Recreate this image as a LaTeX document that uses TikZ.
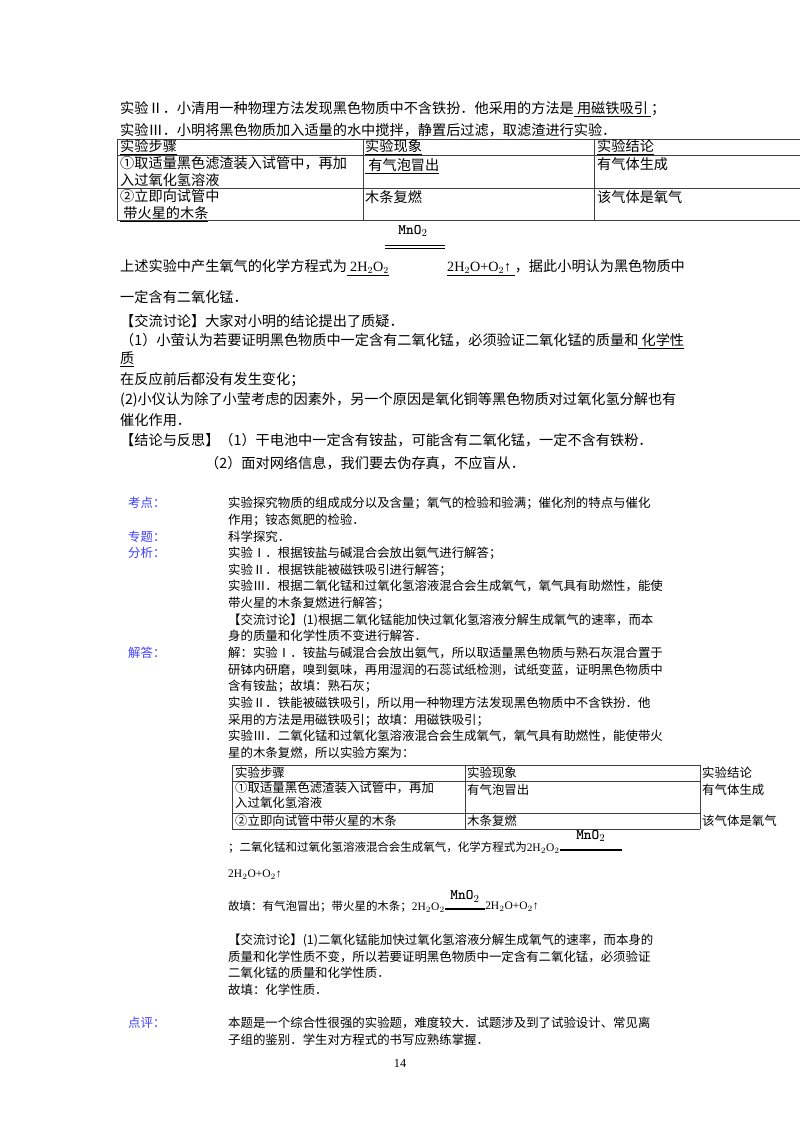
\documentclass[tikz,border=0pt]{standalone}
\usepackage{fontspec}
\setmainfont{Liberation Serif}
\newfontfamily\cjk{Noto Sans CJK SC}
\begin{document}
\begin{tikzpicture}[x=0.03cm,y=-0.03cm,
  t/.style={anchor=west,inner sep=0,font=\cjk\fontsize{10.6}{13}\selectfont},
  tt/.style={t,font=\cjk\fontsize{12.1}{15}\selectfont},
  ts/.style={t,font=\cjk\fontsize{9.8}{12}\selectfont},
  lab/.style={t,text=blue!75!white},
  grid/.style={line width=0.5pt,draw=black!75},
  mn/.style={inner sep=0,font=\ttfamily\bfseries\fontsize{12.5}{14}\selectfont}]
\useasboundingbox[fill=white](0,0) rectangle (800,1132);
\node[tt] (a1) at (120,109) {实验Ⅱ．小清用一种物理方法发现黑色物质中不含铁扮．他采用的方法是\underline{\ 用磁铁吸引\ }；};
\node[tt] (a2) at (120,130) {实验Ⅲ．小明将黑色物质加入适量的水中搅拌，静置后过滤，取滤渣进行实验．};
% table 1
\draw[grid] (117,139) -- (800,139) (117,155) -- (800,155) (117,188) -- (800,188) (117,220) -- (800,220);
\draw[grid] (117,139) -- (117,220) (363,139) -- (363,220) (594,139) -- (594,220);
\node[tt] (h1) at (120,147) {\underline{实验步骤}};
\node[tt] (h2) at (365,147) {\underline{实验现象}};
\node[tt] (h3) at (597,147) {\underline{实验结论}};
\node[tt,align=left,anchor=north west] (r1) at (120,156) {①取适量黑色滤渣装入试管中，再加\\入过氧化氢溶液};
\node[tt] (r12) at (365,166) {\underline{\ 有气泡冒出}};
\node[tt] (r13) at (597,164) {有气体生成};
\node[tt,align=left,anchor=north west] (r2) at (120,189) {②立即向试管中\\\underline{\ 带火星的木条}};
\node[tt] (r22) at (365,197) {木条复燃};
\node[tt] (r23) at (597,197) {该气体是氧气};
\node[mn] (m1) at (413,231) {MnO$_2$};
\draw (385,245) -- (445,245) (385,248.5) -- (445,248.5);
\node[tt] (a3) at (120,268) {上述实验中产生氧气的化学方程式为\underline{\ \rmfamily 2H$_2$O$_2$}};
\node[tt] (a3b) at (447,268) {\underline{\rmfamily 2H$_2$O+O$_2$↑\ }，据此小明认为黑色物质中};
\node[tt] (a4) at (120,297) {一定含有二氧化锰．};
\node[tt] (a5) at (120,321) {【交流讨论】大家对小明的结论提出了质疑．};
\node[tt] (a6) at (120,341) {（1）小萤认为若要证明黑色物质中一定含有二氧化锰，必须验证二氧化锰的质量和\underline{\ 化学性}};
\node[tt] (a7) at (120,359) {\underline{质}};
\node[tt] (a8) at (120,380) {在反应前后都没有发生变化；};
\node[tt] (a9) at (120,400) {(2)小仪认为除了小莹考虑的因素外，另一个原因是氧化铜等黑色物质对过氧化氢分解也有};
\node[tt] (a10) at (120,420) {催化作用．};
\node[tt] (a11) at (120,440) {【结论与反思】（1）干电池中一定含有铵盐，可能含有二氧化锰，一定不含有铁粉．};
\node[tt] (a12) at (205,463) {（2）面对网络信息，我们要去伪存真，不应盲从．};
% analysis
\node[lab] (k1) at (128,503) {考点：};
\node[lab] (k2) at (128,537) {专题：};
\node[lab] (k3) at (128,553) {分析：};
\node[lab] (k4) at (128,653) {解答：};
\node[lab] (k5) at (128,1023) {点评：};
\foreach \y/\s in {503/实验探究物质的组成成分以及含量；氧气的检验和验满；催化剂的特点与催化,
 520/作用；铵态氮肥的检验．, 537/科学探究．, 553/实验Ⅰ．根据铵盐与碱混合会放出氨气进行解答；,
 570/实验Ⅱ．根据铁能被磁铁吸引进行解答；, 586/实验Ⅲ．根据二氧化锰和过氧化氢溶液混合会生成氧气，氧气具有助燃性，能使,
 603/带火星的木条复燃进行解答；, 620/【交流讨论】(1)根据二氧化锰能加快过氧化氢溶液分解生成氧气的速率，而本,
 636/身的质量和化学性质不变进行解答．, 653/解：实验Ⅰ．铵盐与碱混合会放出氨气，所以取适量黑色物质与熟石灰混合置于,
 670/研钵内研磨，嗅到氨味，再用湿润的石蕊试纸检测，试纸变蓝，证明黑色物质中, 686/含有铵盐；故填：熟石灰；,
 703/实验Ⅱ．铁能被磁铁吸引，所以用一种物理方法发现黑色物质中不含铁扮．他, 720/采用的方法是用磁铁吸引；故填：用磁铁吸引；,
 736/实验Ⅲ．二氧化锰和过氧化氢溶液混合会生成氧气，氧气具有助燃性，能使带火, 753/星的木条复燃，所以实验方案为：,
 940/【交流讨论】(1)二氧化锰能加快过氧化氢溶液分解生成氧气的速率，而本身的, 957/质量和化学性质不变，所以若要证明黑色物质中一定含有二氧化锰，必须验证,
 973/二氧化锰的质量和化学性质．, 990/故填：化学性质．, 1023/本题是一个综合性很强的实验题，难度较大．试题涉及到了试验设计、常见离,
 1040/子组的鉴别．学生对方程式的书写应熟练掌握．}
  \node[t] at (228,\y) {\s};
% table 2
\draw[grid] (232,765) -- (700,765) (232,781) -- (700,781) (232,813) -- (700,813) (232,829) -- (700,829);
\draw[grid] (232,765) -- (232,829) (465,765) -- (465,829) (700,765) -- (700,829);
\node[t] (s1) at (235,773) {实验步骤};
\node[t] (s2) at (467,773) {实验现象};
\node[t] (s3) at (702,773) {实验结论};
\node[t,align=left,anchor=north west] (s4) at (235,782) {①取适量黑色滤渣装入试管中，再加\\入过氧化氢溶液};
\node[t] (s5) at (467,790) {有气泡冒出};
\node[t] (s6) at (702,790) {有气体生成};
\node[t] (s7) at (235,821) {②立即向试管中带火星的木条};
\node[t] (s8) at (467,821) {木条复燃};
\node[t] (s9) at (702,821) {该气体是氧气};
\node[ts] (e1) at (228,848) {；二氧化锰和过氧化氢溶液混合会生成氧气，化学方程式为{\rmfamily 2H$_2$O$_2$}};
\draw ([yshift=-1pt]e1.east) -- ++(62,0) ([yshift=-2.1pt]e1.east) -- ++(62,0);
\node[mn,anchor=south] (m2) at ([xshift=31*0.03cm,yshift=5pt]e1.east) {MnO$_2$};
\node[ts] (e2) at (228,875) {\rmfamily 2H$_2$O+O$_2$↑；};
\node[ts] (e3) at (228,907) {故填：有气泡冒出；带火星的木条；{\rmfamily 2H$_2$O$_2$}};
\draw ([yshift=-1pt]e3.east) -- ++(40,0) ([yshift=-2.1pt]e3.east) -- ++(40,0);
\node[mn,anchor=south] (m3) at ([xshift=20*0.03cm,yshift=4pt]e3.east) {MnO$_2$};
\node[ts,anchor=west] (e4) at ([xshift=40*0.03cm]e3.east) {\rmfamily 2H$_2$O+O$_2$↑；};
\node[inner sep=0,font=\rmfamily\fontsize{10.5}{12}\selectfont] (pg) at (400,1063) {14};
\end{tikzpicture}
\end{document}
